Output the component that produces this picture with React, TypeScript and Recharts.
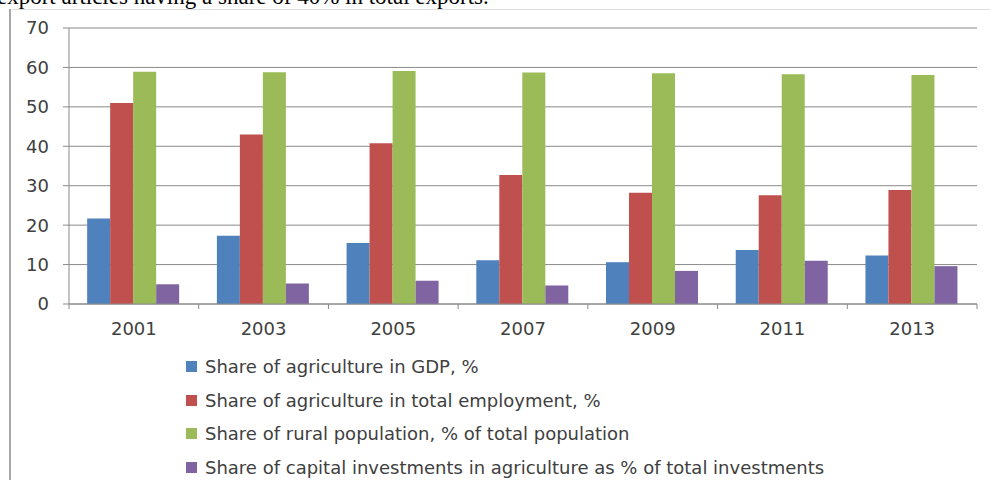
import { BarChart, Bar, XAxis, YAxis, CartesianGrid, Legend } from "recharts";

const years = ["2001", "2003", "2005", "2007", "2009", "2011", "2013"];
const gdpShare = [21.7, 17.3, 15.5, 11.1, 10.6, 13.7, 12.3];
const employmentShare = [51.0, 43.0, 40.8, 32.7, 28.2, 27.6, 28.9];
const ruralShare = [58.9, 58.8, 59.1, 58.7, 58.5, 58.3, 58.1];
const investmentShare = [5.0, 5.2, 5.9, 4.7, 8.4, 11.0, 9.6];
const yTicks = [0, 10, 20, 30, 40, 50, 60, 70];

const series = [
  { key: "gdp", name: "Share of agriculture in GDP, %", color: "#4F81BD" },
  { key: "employment", name: "Share of agriculture in total employment, %", color: "#C0504D" },
  { key: "rural", name: "Share of rural population, % of total population", color: "#9BBB59" },
  { key: "investment", name: "Share of capital investments in agriculture as % of total investments", color: "#8064A2" },
];

const data = years.map((year, i) => ({
  year,
  gdp: gdpShare[i],
  employment: employmentShare[i],
  rural: ruralShare[i],
  investment: investmentShare[i],
}));

const FONT = "'DejaVu Sans', sans-serif";
const GRID = "#8a8a8a";
const TEXT = "#404040";
const TICK_MARGIN = 12;
const TICK_SIZE = 6;

// category label plus Excel-style tick marks on the category boundaries
function YearTick(props: any) {
  const { x, y, payload, index, visibleTicksCount } = props;
  const half = payload.offset || 0;
  const axisY = y - TICK_SIZE - TICK_MARGIN;
  const isLast = index === visibleTicksCount - 1;
  return (
    <g>
      <line x1={x - half} x2={x - half} y1={axisY} y2={axisY + 5} stroke={GRID} />
      {isLast && <line x1={x + half} x2={x + half} y1={axisY} y2={axisY + 5} stroke={GRID} />}
      <text x={x} y={y} dy="0.71em" textAnchor="middle" fill={TEXT} fontSize={18} fontFamily={FONT}>
        {payload.value}
      </text>
    </g>
  );
}

function LegendBox({ payload }: any) {
  const order = series.map((s) => s.name);
  const items = [...(payload || [])].sort((a: any, b: any) => order.indexOf(a.value) - order.indexOf(b.value));
  return (
    <ul style={{ margin: 0, padding: 0, listStyle: "none", fontFamily: FONT, fontSize: 18, color: TEXT }}>
      {items.map((item: any) => (
        <li key={item.value} style={{ height: 33.5, display: "flex", alignItems: "center", whiteSpace: "nowrap" }}>
          <span style={{ width: 11, height: 11, background: item.color, marginRight: 8, flex: "none" }} />
          <span>{item.value}</span>
        </li>
      ))}
    </ul>
  );
}

export default function App() {
  return (
    <div style={{ position: "absolute", left: 0, top: 0, width: 990, height: 480, background: "#fff", overflow: "hidden" }}>
      <div
        style={{
          position: "absolute",
          left: -3,
          top: -15,
          fontFamily: "'Liberation Serif', serif",
          fontSize: 23,
          lineHeight: "23px",
          color: "#000",
          whiteSpace: "nowrap",
        }}
      >
        export articles having a share of 40% in total exports.
      </div>
      <div style={{ position: "absolute", left: 12, top: 9, width: 978, height: 1, background: "#dedede" }} />
      <div style={{ position: "absolute", left: 9, top: 9, width: 2, height: 471, background: "#a8a8a8" }} />
      <div style={{ position: "absolute", left: 0, top: 0 }}>
        <BarChart
          width={990}
          height={480}
          data={data}
          margin={{ top: 28, right: 13, left: 19, bottom: 146 }}
          barCategoryGap="14%"
          barGap={0}
        >
          <CartesianGrid vertical={false} stroke={GRID} />
          <XAxis
            dataKey="year"
            tickLine={false}
            tickSize={TICK_SIZE}
            tickMargin={TICK_MARGIN}
            axisLine={{ stroke: GRID }}
            tick={<YearTick />}
            interval={0}
          />
          <YAxis
            width={50}
            domain={[0, 70]}
            ticks={yTicks}
            tickSize={6}
            tickMargin={14}
            axisLine={{ stroke: GRID }}
            tickLine={{ stroke: GRID }}
            tick={{ fill: TEXT, fontSize: 18, fontFamily: FONT }}
          />
          <Legend
            layout="vertical"
            align="center"
            verticalAlign="middle"
            wrapperStyle={{ left: 186, top: 350, width: 780 }}
            content={<LegendBox />}
          />
          {series.map((s) => (
            <Bar key={s.key} dataKey={s.key} name={s.name} fill={s.color} isAnimationActive={false} />
          ))}
        </BarChart>
      </div>
    </div>
  );
}
